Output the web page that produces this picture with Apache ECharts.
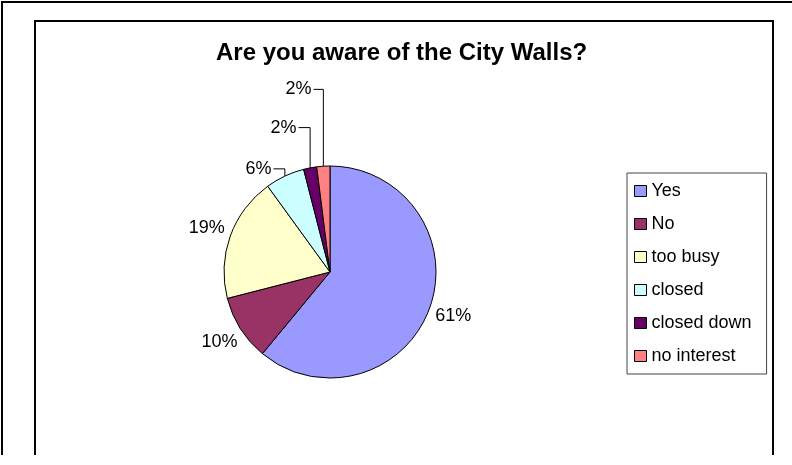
<!DOCTYPE html>
<html>
<head>
<meta charset="utf-8">
<script src="https://cdn.jsdelivr.net/npm/echarts@6/dist/echarts.min.js"></script>
<style>
  html, body { margin: 0; padding: 0; background: #fff; }
  #chart { width: 792px; height: 465px; }
</style>
</head>
<body>
<div id="chart"></div>
<script>
const categories = ['Yes', 'No', 'too busy', 'closed', 'closed down', 'no interest']
const values = [61, 10, 19, 6, 2, 2]
const colors = ['#9999FF', '#993366', '#FFFFCC', '#CCFFFF', '#660066', '#FF8080']

// leader line lengths, only used by the small slices
const lineLen = [20, 20, 20, 8, 41, 77]
const lineLen2 = [4, 4, 4, 5, 1, 2]

const font = 'Arial, "Liberation Sans", sans-serif'
const pieCenter = [330, 272]
const pieRadius = 106
const labelRadius = 131
const total = values.reduce((s, v) => s + v, 0)

// mid angle of slice i, clockwise from 12 o'clock
function midAngle(i) {
  let before = 0
  for (let k = 0; k < i; k++) before += values[k]
  return (before + values[i] / 2) / total * Math.PI * 2
}

const chart = echarts.init(document.getElementById('chart'))

const pieData = categories.map((name, i) => ({
  name: name,
  value: values[i],
  itemStyle: { color: colors[i] },
  labelLine: {
    show: values[i] < 7,
    length: lineLen[i],
    length2: lineLen2[i],
  },
}))

const option = {
  animation: false,
  backgroundColor: '#fff',
  title: {
    text: 'Are you aware of the City Walls?',
    left: 216,
    top: 41,
    padding: 0,
    textStyle: {
      fontFamily: font,
      fontSize: 24,
      fontWeight: 'bold',
      color: '#000',
    },
  },
  legend: {
    orient: 'vertical',
    left: 627,
    top: 173,
    padding: [9, 15, 9, 7],
    itemWidth: 12,
    itemHeight: 11,
    itemGap: 15,
    itemTextGap: 6,
    icon: 'rect',
    backgroundColor: '#fff',
    borderColor: '#444',
    borderWidth: 1,
    borderRadius: 0,
    itemStyle: { borderColor: '#000', borderWidth: 1 },
    textStyle: { fontFamily: font, fontSize: 18, color: '#000' },
    data: categories,
  },
  graphic: [
    {
      type: 'polyline',
      shape: { points: [[2, 455], [2, 2], [800, 2]] },
      style: { stroke: '#000', lineWidth: 2, fill: null },
    },
    {
      type: 'polyline',
      shape: { points: [[35, 455], [35, 21], [773, 21], [773, 455]] },
      style: { stroke: '#000', lineWidth: 2, fill: null },
    },
  ],
  series: [{
    type: 'pie',
    center: pieCenter,
    radius: pieRadius,
    startAngle: 90,
    clockwise: true,
    avoidLabelOverlap: false,
    itemStyle: { borderColor: '#000', borderWidth: 1 },
    emphasis: { disabled: true },
    label: {
      show: true,
      position: 'outside',
      formatter: '{c}%',
      fontFamily: font,
      fontSize: 18,
      color: '#000',
    },
    labelLine: {
      lineStyle: { color: '#000', width: 1 },
    },
    // excel style: big slices get a centred label, small ones an elbow line
    labelLayout: (p) => {
      const i = p.dataIndex
      if (values[i] >= 7) {
        const a = midAngle(i)
        return {
          x: pieCenter[0] + labelRadius * Math.sin(a),
          y: pieCenter[1] - labelRadius * Math.cos(a),
          align: 'center',
          verticalAlign: 'middle',
        }
      }
      const pts = p.labelLinePoints
      if (!pts) return {}
      const r = p.labelRect
      const yMid = r.y + r.height / 2
      return {
        labelLinePoints: [pts[0], [pts[0][0], yMid], [r.x + r.width + 2, yMid]],
      }
    },
    data: pieData,
  }],
}

chart.setOption(option)
</script>
</body>
</html>
